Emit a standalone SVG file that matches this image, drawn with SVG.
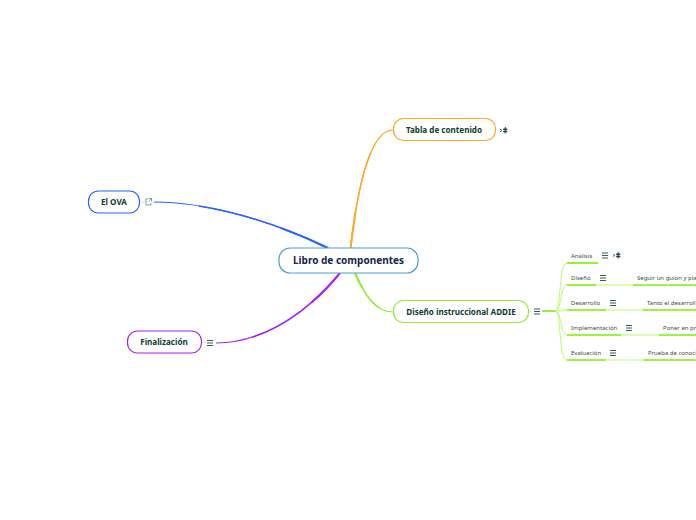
<svg xmlns="http://www.w3.org/2000/svg" width="696" height="520" viewBox="0 0 696 520">
<style>
text{font-family:"Noto Sans","Open Sans",sans-serif}
.b{font-weight:700;font-size:8.1px;fill:#0f3d2e;text-anchor:middle}
.s{font-size:6px;fill:#3a4a44}
.n{fill:#fff;stroke-width:1.2}
.m{stroke:#2f5f50;stroke-width:1;fill:none}
.g{stroke:#7cf000;stroke-width:1.6;fill:none}
.t{stroke:#b8fb70;stroke-width:1;fill:none}
.c1,.c2,.c3{fill:none}
.c1{stroke-width:1.1}
.c2{stroke-width:1.5;stroke-dasharray:75 100}
.c3{stroke-width:2;stroke-dasharray:28 100}
</style>
<defs>
<path id="menu" class="m" d="M0 .5H6M0 3H6M0 5.500H6"/>
<g id="flow"><path d="M0 2.200L2 3.300L0 4.600" stroke="#333" stroke-width=".7" fill="none"/><path d="M3.200 1.500H7.300V3H3.200zM3.200 3.800H7.300V5.300H3.200z" fill="#174a38"/><path d="M5.200 0V6.500" stroke="#174a38" stroke-width="1"/></g>
<path id="po" pathLength="100" d="M350.500 249C356 200 368 130 393 130"/>
<path id="pb" pathLength="100" d="M328 248C270 220 205 202 154 202"/>
<path id="pp" pathLength="100" d="M340 273C310 310 265 343 216 343"/>
<path id="pg" pathLength="100" d="M355 273C365 296 376 312 393 312"/>
</defs>
<g id="connectors">
<g stroke="#ffa726"><use href="#po" class="c1"/><use href="#po" class="c2"/><use href="#po" class="c3"/></g>
<g stroke="#2962ff"><use href="#pb" class="c1"/><use href="#pb" class="c2"/><use href="#pb" class="c3"/></g>
<g stroke="#aa22f0"><use href="#pp" class="c1"/><use href="#pp" class="c2"/><use href="#pp" class="c3"/></g>
<g stroke="#90ee30"><use href="#pg" class="c1"/><use href="#pg" class="c2"/><use href="#pg" class="c3"/></g>
<path d="M141 202H145M203 342H206M529 311.500H531" fill="none" stroke="#cfd8ff" stroke-width="1"/>
<path d="M542 311H555" class="g"/>
<path class="t" d="M555 311C562 311 558 263 567 263M555 311C562 311 560 285 567 285M555 311C562 311 560 310 567 310M555 311C562 311 560 335 567 335M555 311C562 311 558 360 567 360"/>
</g>
<g id="central"><rect class="n" x="279" y="248" width="139" height="25" rx="11" stroke="#4a9fd8"/><text x="348.500" y="264" text-anchor="middle" font-size="10" font-weight="700" fill="#14264d">Libro de componentes</text></g>
<g id="tabla"><rect class="n" x="393.500" y="118.500" width="102" height="22" rx="10" stroke="#ffa726"/><text class="b" x="444" y="133">Tabla de contenido</text><use href="#flow" x="500" y="127"/></g>
<g id="ova"><rect class="n" x="88.500" y="191" width="51" height="22" rx="10" stroke="#2962ff"/><text class="b" x="114" y="205">El OVA</text><path d="M148 199H146V205H151V203M148.500 198.500H151.500V201.500M151.500 198.500L148.500 201.500" fill="none" stroke="#4f7f70" stroke-width=".7"/></g>
<g id="finalizacion"><rect class="n" x="127.500" y="331" width="74" height="22" rx="10" stroke="#aa22f0"/><text class="b" x="164" y="345">Finalización</text><use href="#menu" x="207" y="340"/></g>
<g id="addie"><rect class="n" x="393.500" y="300.500" width="135" height="22" rx="10" stroke="#90ee30"/><text class="b" x="461" y="315">Diseño instruccional ADDIE</text><use href="#menu" x="534" y="308.500"/></g>
<g id="analisis"><text class="s" x="571" y="258">Analisis</text><path class="g" d="M567 263H598"/><use href="#menu" x="602" y="252.500"/><use href="#flow" x="613" y="252"/></g>
<g id="diseno"><text class="s" x="571" y="280">Diseño</text><path class="g" d="M567 285H596"/><path class="t" d="M596 285H633"/><use href="#menu" x="600" y="275"/><text class="s" x="637" y="280">Seguir un guion y pla</text><path class="g" d="M633 285H696"/></g>
<g id="desarrollo"><text class="s" x="571" y="305">Desarrollo</text><path class="g" d="M567 310H606"/><path class="t" d="M606 310H643"/><use href="#menu" x="610" y="300"/><text class="s" x="647" y="305">Tanto el desarroll</text><path class="g" d="M643 310H696"/></g>
<g id="implementacion"><text class="s" x="571" y="330">Implementación</text><path class="g" d="M567 335H621"/><path class="t" d="M621 335H659"/><use href="#menu" x="626" y="325"/><text class="s" x="663" y="330">Poner en pr</text><path class="g" d="M659 335H696"/></g>
<g id="evaluacion"><text class="s" x="571" y="355">Evaluación</text><path class="g" d="M567 360H606"/><path class="t" d="M606 360H644"/><use href="#menu" x="610" y="350"/><text class="s" x="648" y="355">Prueba de conoci</text><path class="g" d="M644 360H696"/></g>
</svg>
